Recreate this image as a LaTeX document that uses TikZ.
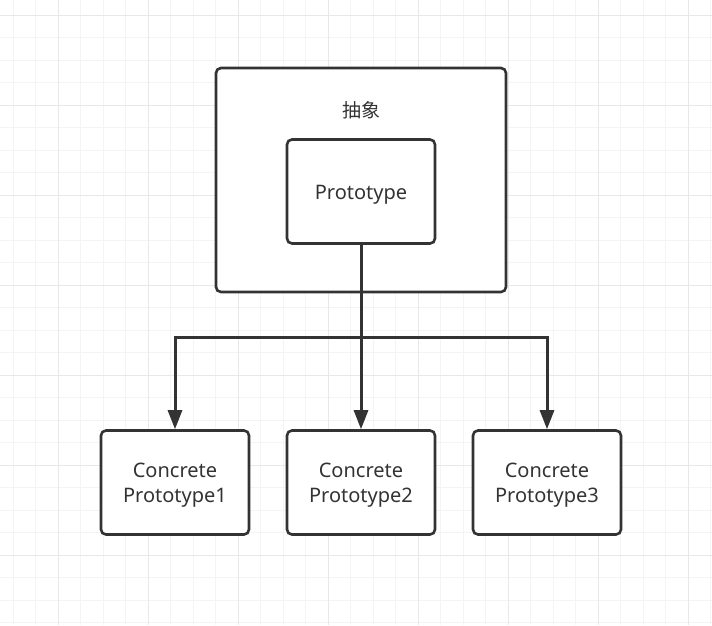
\documentclass[tikz,border=0pt]{standalone}
\usepackage{fontspec}
\setmainfont{Noto Sans}
\newfontfamily\cjkfont{Noto Sans CJK SC}
\usepackage{xcolor}
\usetikzlibrary{arrows.meta,positioning,calc}

\definecolor{inkgray}{HTML}{333333}
\definecolor{minorgrid}{HTML}{F4F4F4}
\definecolor{majorgrid}{HTML}{E8E8E8}

\begin{document}
\begin{tikzpicture}[
    x=1pt, y=-1pt,
    boxtext/.style={text=inkgray, align=center, inner sep=0pt, yshift=-3pt,
        font=\fontsize{20}{25}\selectfont},
    protobox/.style={rectangle, rounded corners=5pt, draw=inkgray, line width=2.6pt,
        fill=white, minimum width=148pt, minimum height=104pt, inner sep=0pt,
        label={[boxtext]center:{#1}}},
    groupbox/.style={protobox={}, minimum width=290pt, minimum height=224pt},
    conn/.style={draw=inkgray, line width=3pt,
        -{Triangle[width=14pt,length=19pt]}}
]
% Canvas
\useasboundingbox (0,0) rectangle (712,625);
\fill[white] (0,0) rectangle (712,625);
% Grid
\foreach \i in {0,...,32} {
    \draw[minorgrid, line width=1pt] ({-9.5+22.5*\i},0) -- ({-9.5+22.5*\i},625);
}
\foreach \j in {0,...,27} {
    \draw[minorgrid, line width=1pt] (0,{15+22.5*\j}) -- (712,{15+22.5*\j});
}
\foreach \i in {0,...,7} {
    \draw[majorgrid, line width=1pt] ({58+90*\i},0) -- ({58+90*\i},625);
}
\foreach \j in {0,...,6} {
    \draw[majorgrid, line width=1pt] (0,{15+90*\j}) -- (712,{15+90*\j});
}
% Abstract group
\node[groupbox] (abstract) at (361,180) {};
\node[text=inkgray, font=\cjkfont\fontsize{19}{22}\selectfont] (abstractlabel) at (361,110) {抽象};
\node[protobox={Prototype}] (proto) at (361,191.5) {};
% Concrete prototypes
\node[protobox={Concrete\\Prototype1}] (concrete1) at (175,482.5) {};
\node[protobox={Concrete\\Prototype2}] (concrete2) at (361,482.5) {};
\node[protobox={Concrete\\Prototype3}] (concrete3) at (547,482.5) {};
% Connectors
\coordinate (split) at (361,337);
\draw[conn] (proto.south) -- (split) -| (concrete1.north);
\draw[conn] (proto.south) -- (concrete2.north);
\draw[conn] (proto.south) -- (split) -| (concrete3.north);
\end{tikzpicture}
\end{document}
